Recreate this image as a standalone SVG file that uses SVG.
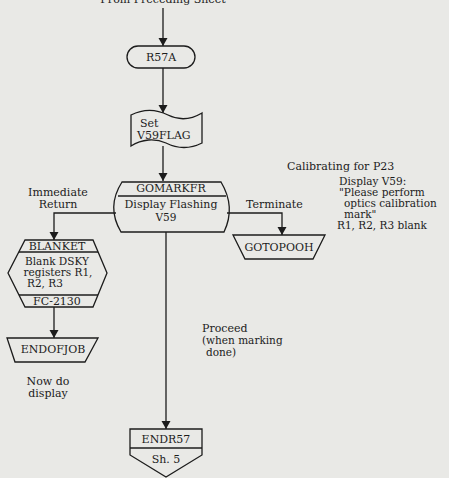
<svg xmlns="http://www.w3.org/2000/svg" width="449" height="478" viewBox="0 0 449 478">
  <defs>
    <marker id="arrow" markerWidth="8" markerHeight="11" refX="8" refY="4.5" orient="auto" markerUnits="userSpaceOnUse">
      <path d="M0,0 L8,4.5 L0,9 Z" fill="#1c1c1c"/>
    </marker>
  </defs>
  <style>
    .bg { fill: #e9e9e6; }
    .shape { fill: none; stroke: #1c1c1c; stroke-width: 1.3; }
    .line { fill: none; stroke: #1c1c1c; stroke-width: 1.3; }
    text { font-family: "DejaVu Serif", "Liberation Serif", serif; font-size: 11px; fill: #1c1c1c; }
    .c { text-anchor: middle; }
    .s { font-size: 10.5px; }
  </style>
  <rect class="bg" x="0" y="0" width="449" height="478"/>

  <text class="c" x="163" y="3">From Preceding Sheet</text>

  <g id="connectors">
    <path class="line" d="M163,8 V46" marker-end="url(#arrow)"/>
    <path class="line" d="M163,68 V113" marker-end="url(#arrow)"/>
    <path class="line" d="M163,146 V181" marker-end="url(#arrow)"/>
    <path class="line" d="M116,213 H54 V240" marker-end="url(#arrow)"/>
    <path class="line" d="M227,213 H282 V235" marker-end="url(#arrow)"/>
    <path class="line" d="M54,307 V338" marker-end="url(#arrow)"/>
    <path class="line" d="M166,232 V429" marker-end="url(#arrow)"/>
  </g>

  <g id="r57a">
    <rect class="shape" x="127" y="46" width="68" height="22" rx="11"/>
    <text class="c" x="161" y="61">R57A</text>
  </g>

  <g id="setflag">
    <path class="shape" d="M131,115 C145,108 158,110 168,115 C180,121 192,119 202,113 V143 C190,149 178,149 166,143 C155,138 142,139 131,146 Z"/>
    <text x="140" y="127">Set</text>
    <text x="137" y="139">V59FLAG</text>
  </g>

  <g id="gomarkfr">
    <path class="shape" d="M122,182 H221 Q236,207 224,232 H121 Q106,207 122,182 Z"/>
    <line class="shape" x1="118" y1="196" x2="226" y2="196"/>
    <text class="c" x="171" y="192">GOMARKFR</text>
    <text class="c" x="171" y="208">Display Flashing</text>
    <text class="c s" x="166" y="221">V59</text>
  </g>

  <g id="blanket">
    <path class="shape" d="M25,240 H93 L107,273 L93,307 H25 L8,273 Z"/>
    <line class="shape" x1="19" y1="252" x2="98" y2="252"/>
    <line class="shape" x1="19" y1="295" x2="98" y2="295"/>
    <text class="c" x="57" y="250">BLANKET</text>
    <text class="c s" x="57" y="265">Blank DSKY</text>
    <text class="c s" x="58" y="276">registers R1,</text>
    <text class="s" x="27" y="287">R2, R3</text>
    <text class="c" x="57" y="305">FC-2130</text>
  </g>

  <g id="endofjob">
    <path class="shape" d="M7,338 H98 L85,362 H15 Z"/>
    <text class="c" x="53" y="353">ENDOFJOB</text>
  </g>

  <g id="gotopooh">
    <path class="shape" d="M233,235 H325 L313,259 H245 Z"/>
    <text class="c" x="279" y="251">GOTOPOOH</text>
  </g>

  <g id="endr57">
    <path class="shape" d="M130,429 H202 V455 L166,477 L130,455 Z"/>
    <line class="shape" x1="130" y1="448" x2="202" y2="448"/>
    <text class="c" x="166" y="443">ENDR57</text>
    <text class="c" x="166" y="463">Sh. 5</text>
  </g>

  <g id="labels">
    <text class="c" x="58" y="196">Immediate</text>
    <text class="c" x="58" y="208">Return</text>
    <text x="246" y="208">Terminate</text>
    <text x="287" y="170">Calibrating for P23</text>
    <text class="s" x="339" y="185">Display V59:</text>
    <text class="s" x="339" y="196">"Please perform</text>
    <text class="s" x="344" y="207">optics calibration</text>
    <text class="s" x="344" y="218">mark"</text>
    <text class="s" x="337" y="229">R1, R2, R3 blank</text>
    <text x="202" y="332">Proceed</text>
    <text class="s" x="202" y="344">(when marking</text>
    <text class="s" x="206" y="356">done)</text>
    <text class="c" x="48" y="385">Now do</text>
    <text class="c" x="48" y="397">display</text>
  </g>
</svg>
